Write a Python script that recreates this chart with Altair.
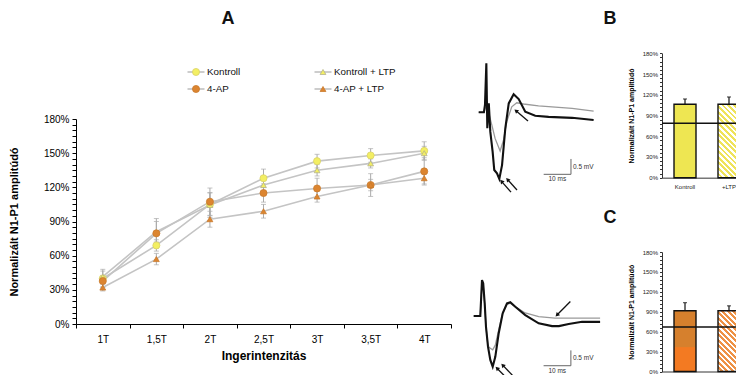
import math
import altair as alt
import numpy as np
import pandas as pd

FONT = "Liberation Sans"

# ---------------- Panel A: intensity series ----------------
intensities = ["1T", "1,5T", "2T", "2,5T", "3T", "3,5T", "4T"]
series_names = ["Kontroll", "Kontroll + LTP", "4-AP", "4-AP + LTP"]
kontroll = [40, 69, 105, 128, 143, 148, 152]
kontroll_err = [8, 5, 10, 8, 6, 6, 8]
kontroll_ltp = [41.5, 81, 104.5, 122, 135, 141, 150]
kontroll_ltp_err = [5, 9, 11, 6, 5, 4, 6]
ap = [37.7, 79.6, 107.4, 115, 119, 122, 134]
ap_err = [5, 13, 12, 8, 9, 10, 12]
ap_ltp = [32, 57, 92, 99, 112, 122, 128]
ap_ltp_err = [3, 5, 7, 6, 5, 5, 5]
series_values = [kontroll, kontroll_ltp, ap, ap_ltp]
series_errors = [kontroll_err, kontroll_ltp_err, ap_err, ap_ltp_err]
series_fill = ["#F3EF63", "#F3EF63", "#DC8530", "#DC8530"]
series_stroke = ["#D9D26A", "#B5B28C", "#C97A2C", "#C97A2C"]
series_shape = ["circle", "triangle-up", "circle", "triangle-up"]
series_size = [50, 34, 50, 34]
legend_col = [0, 1, 0, 1]
legend_row = [0, 0, 1, 1]

# ---------------- Panels B and C: bars ----------------
bar_categories = ["Kontroll", "+LTP"]
b_values = [106.2, 106.2]
b_errors = [7.7, 10.6]
b_reference = 78.7
c_values = [91.5, 91.5]
c_errors = [12.2, 7.4]
c_reference = 67.0
c_lower_band = 36.7

# ---------------- Field-potential traces (ms, mV) ----------------
top_black_t = [0, 1.9, 2.3, 2.8, 3.15, 3.7, 4.25, 5.1, 5.7, 6.7, 7.55, 8.55, 9.75, 11.0, 12.8, 14.65, 17.05, 20.7, 25.6, 34.2, 42.1]
top_black_v = [0, 0, 0.24, 1.60, -0.52, 0.29, -0.63, -1.28, -1.88, -1.99, -2.17, -1.72, -0.52, 0.29, 0.59, 0.43, 0.02, -0.11, -0.15, -0.18, -0.25]
top_grey_t = [0, 1.9, 2.5, 3.2, 3.9, 4.8, 6.0, 7.85, 9.1, 10.3, 12.1, 13.95, 16.4, 21.9, 34.2, 42.1]
top_grey_v = [0, 0, 0.15, 0.30, -0.10, -0.41, -0.85, -1.26, -0.90, -0.30, 0.18, 0.31, 0.27, 0.21, 0.13, 0.04]
bot_black_t = [0, 2.42, 3.04, 3.48, 4.03, 4.5, 5.24, 6.08, 6.96, 7.91, 9.16, 10.62, 12.2, 13.4, 15.24, 18.9, 23.8, 28.7, 31.2, 34.8, 39.7, 46.3]
bot_black_v = [0, 0, 1.17, 1.07, 0.41, -0.35, -1.0, -1.43, -1.65, -1.33, -0.56, 0.09, 0.41, 0.45, 0.30, 0.03, -0.24, -0.33, -0.33, -0.26, -0.19, -0.19]
bot_grey_t = [0, 2.42, 3.04, 3.48, 4.03, 4.5, 5.24, 6.08, 6.96, 7.91, 9.16, 10.62, 12.2, 13.4, 15.24, 18.9, 23.8, 29.8, 36.0, 46.3]
bot_grey_v = [0, 0, 1.10, 1.00, 0.38, -0.35, -0.98, -1.05, -1.10, -0.95, -0.45, 0.10, 0.38, 0.42, 0.30, 0.10, -0.02, -0.07, -0.07, -0.07]
# arrows: tail (t0, v0) -> head (t1, v1)
top_arrow_t0 = [18.06, 11.83, 14.03]
top_arrow_v0 = [-0.28, -2.60, -2.53]
top_arrow_t1 = [13.66, 8.35, 10.55]
top_arrow_v1 = [0.05, -2.25, -2.19]
bot_arrow_t0 = [35.4, 13.4, 15.24]
bot_arrow_v0 = [0.47, -2.14, -2.03]
bot_arrow_t1 = [30.5, 8.53, 10.62]
bot_arrow_v1 = [0.03, -1.70, -1.60]
# scale bars: 10 ms and 0.5 mV
top_bar_t = [23.8, 33.8]
top_bar_v = [-2.02, -1.52]
bot_bar_t = [25.6, 35.6]
bot_bar_v = [-1.62, -1.12]
scale_labels = ["0.5 mV", "10 ms"]

# ---------------- layout (canvas = page - 8px margin) ----------------
W, H = 728, 367
M = 8


def px(v):
    return v - M


layers = []

# ===== Panel A =====
rows = []
for s, name in enumerate(series_names):
    for i, cat in enumerate(intensities):
        v = series_values[s][i]
        e = series_errors[s][i]
        rows.append(dict(series=name, cat=cat, idx=i, val=v, lo=v - e, hi=v + e,
                         fill=series_fill[s], stroke=series_stroke[s],
                         shape=series_shape[s], size=series_size[s]))
df_a = pd.DataFrame(rows)
df_caps = pd.concat([df_a.assign(cap=df_a["lo"]), df_a.assign(cap=df_a["hi"])])


def a_x(axis=None):
    return alt.X("cat:N", title="Ingerintenzitás",
                 scale=alt.Scale(type="band", domain=intensities, range=[px(76), px(451)],
                                 paddingInner=0, paddingOuter=0),
                 axis=axis)


def a_y(field, axis=None):
    return alt.Y(field, title="Normalizált N1-P1 amplitúdó",
                 scale=alt.Scale(domain=[0, 180], range=[px(324), px(119)], nice=False, zero=False),
                 axis=axis)


a_xaxis = alt.Axis(orient="bottom", offset=px(324) - H, tickBand="extent", labelAngle=0,
                   tickSize=4, tickColor="#000", domainColor="#000", labelColor="#000",
                   labelFontSize=10, labelPadding=6, titleFontSize=12, titlePadding=6,
                   titleColor="#000", grid=False)
a_yaxis = alt.Axis(orient="left", offset=-px(76), values=list(range(0, 181, 5)),
                   labelExpr="datum.value % 30 === 0 ? datum.value + '%' : ''",
                   labelOverlap=False, labelFlush=False, tickSize=4, tickColor="#000",
                   domainColor="#000", labelColor="#000", labelFontSize=10, labelPadding=3,
                   titleFontSize=11, titlePadding=24, titleColor="#000", grid=False)

layers.append(alt.Chart(df_a).mark_rule(color="#ABABAB", strokeWidth=1).encode(
    x=a_x(), y=a_y("lo:Q"), y2="hi:Q"))
layers.append(alt.Chart(df_caps).mark_tick(color="#ABABAB", thickness=1, size=5).encode(
    x=a_x(), y=a_y("cap:Q")))
layers.append(alt.Chart(df_a).mark_line(color="#C4C4C4", strokeWidth=1.6).encode(
    x=a_x(a_xaxis), y=a_y("val:Q", a_yaxis), detail="series:N", order="idx:Q"))
layers.append(alt.Chart(df_a).mark_point(filled=True, opacity=1, strokeWidth=0.8).encode(
    x=a_x(), y=a_y("val:Q"),
    fill=alt.Fill("fill:N", scale=None), stroke=alt.Stroke("stroke:N", scale=None),
    shape=alt.Shape("shape:N", scale=None), size=alt.Size("size:Q", scale=None)))

# legend for A
df_leg = pd.DataFrame(dict(name=series_names, col=legend_col, row=legend_row,
                           fill=series_fill, stroke=series_stroke, shape=series_shape,
                           size=series_size))
leg_x = alt.X("col:O", scale=alt.Scale(type="point", domain=[0, 1], range=[px(196), px(323)], padding=0), axis=None)
leg_y = alt.Y("row:O", scale=alt.Scale(type="point", domain=[0, 1], range=[px(72), px(89)], padding=0), axis=None)
layers.append(alt.Chart(df_leg).mark_point(shape="stroke", size=290, strokeWidth=1.5,
                                           color="#BDBDBD", opacity=1).encode(x=leg_x, y=leg_y))
layers.append(alt.Chart(df_leg).mark_point(filled=True, opacity=1, strokeWidth=0.8).encode(
    x=leg_x, y=leg_y, fill=alt.Fill("fill:N", scale=None), stroke=alt.Stroke("stroke:N", scale=None),
    shape=alt.Shape("shape:N", scale=None), size=alt.Size("size:Q", scale=None)))
layers.append(alt.Chart(df_leg).mark_text(align="left", baseline="middle", dx=11, font=FONT,
                                          fontSize=9.8, color="#111").encode(
    x=leg_x, y=leg_y, text="name:N"))

# ===== Traces =====
T_DOM = [0, 50]
V_DOM = [-2.5, 1.8]
KX = 2.73   # px per ms
KY = 30.7   # px per mV


def trace_layers(black_t, black_v, grey_t, grey_v, a_t0, a_v0, a_t1, a_v1,
                 bar_t, bar_v, x0_page, y0_page):
    xs = alt.Scale(domain=T_DOM, range=[px(x0_page), px(x0_page) + KX * (T_DOM[1] - T_DOM[0])], nice=False, zero=False)
    ys = alt.Scale(domain=V_DOM, range=[px(y0_page) - KY * V_DOM[0], px(y0_page) - KY * V_DOM[1]], nice=False, zero=False)
    out = []
    df_tr = pd.concat([
        pd.DataFrame(dict(trace="grey", i=range(len(grey_t)), t=grey_t, v=grey_v)),
        pd.DataFrame(dict(trace="black", i=range(len(black_t)), t=black_t, v=black_v)),
    ])
    out.append(alt.Chart(df_tr).transform_filter(alt.datum.trace == "grey").mark_line(
        color="#9A9A9A", strokeWidth=1.3).encode(
        x=alt.X("t:Q", scale=xs, axis=None), y=alt.Y("v:Q", scale=ys, axis=None), order="i:Q"))
    out.append(alt.Chart(df_tr).transform_filter(alt.datum.trace == "black").mark_line(
        color="#111111", strokeWidth=2.1).encode(
        x=alt.X("t:Q", scale=xs, axis=None), y=alt.Y("v:Q", scale=ys, axis=None), order="i:Q"))
    # arrow shafts + scale bars as segments
    seg = pd.DataFrame(dict(t0=a_t0, v0=a_v0, t1=a_t1, v1=a_v1, kind="arrow"))
    bars = pd.DataFrame(dict(t0=[bar_t[0], bar_t[1]], v0=[bar_v[0], bar_v[0]],
                             t1=[bar_t[1], bar_t[1]], v1=[bar_v[0], bar_v[1]], kind="bar"))
    segs = pd.concat([seg, bars])
    out.append(alt.Chart(segs).mark_rule().encode(
        x=alt.X("t0:Q", scale=xs, axis=None), y=alt.Y("v0:Q", scale=ys, axis=None),
        x2="t1:Q", y2="v1:Q",
        color=alt.Color("kind:N", scale=alt.Scale(domain=["arrow", "bar"], range=["#111111", "#666666"]), legend=None),
        strokeWidth=alt.StrokeWidth("kind:N", scale=alt.Scale(domain=["arrow", "bar"], range=[1.3, 1.0]), legend=None)))
    heads = seg.copy()
    heads["angle"] = [
        (math.degrees(math.atan2((t1 - t0) * KX, (v1 - v0) * KY)) + 360) % 360
        for t0, v0, t1, v1 in zip(a_t0, a_v0, a_t1, a_v1)
    ]
    out.append(alt.Chart(heads).mark_point(shape="triangle-up", filled=True, size=22,
                                           color="#111111", opacity=1).encode(
        x=alt.X("t1:Q", scale=xs, axis=None), y=alt.Y("v1:Q", scale=ys, axis=None),
        angle=alt.Angle("angle:Q", scale=None)))
    lab = pd.DataFrame(dict(text=[scale_labels[0]], t=[bar_t[1]], v=[(bar_v[0] + bar_v[1]) / 2]))
    out.append(alt.Chart(lab).mark_text(align="left", baseline="middle", dx=2, font=FONT,
                                        fontSize=6.5, color="#333").encode(
        x=alt.X("t:Q", scale=xs, axis=None), y=alt.Y("v:Q", scale=ys, axis=None), text="text:N"))
    lab2 = pd.DataFrame(dict(text=[scale_labels[1]], t=[(bar_t[0] + bar_t[1]) / 2], v=[bar_v[0]]))
    out.append(alt.Chart(lab2).mark_text(align="center", baseline="top", dy=2, font=FONT,
                                         fontSize=6.5, color="#333").encode(
        x=alt.X("t:Q", scale=xs, axis=None), y=alt.Y("v:Q", scale=ys, axis=None), text="text:N"))
    return out


layers += trace_layers(top_black_t, top_black_v, top_grey_t, top_grey_v,
                       top_arrow_t0, top_arrow_v0, top_arrow_t1, top_arrow_v1,
                       top_bar_t, top_bar_v, 478.7, 112.3)
layers += trace_layers(bot_black_t, bot_black_v, bot_grey_t, bot_grey_v,
                       bot_arrow_t0, bot_arrow_v0, bot_arrow_t1, bot_arrow_v1,
                       bot_bar_t, bot_bar_v, 473.7, 316.0)


# ===== Bar panels =====
def hatch(color, w, h, period=4.0):
    # diagonal "\" stripes built from a hard-stop linear gradient
    k = (w + h) / (h * (1 + (w / h) ** 2))
    x2 = 1 - (w / h) * k
    span = (w + h) / math.sqrt(2)
    n = max(2, int(round(span / period)))
    stops = []
    for i in range(n):
        a, b, c = i / n, (i + 0.5) / n, (i + 1) / n
        stops += [dict(offset=a, color=color), dict(offset=b, color=color),
                  dict(offset=b, color="#FFFFFF"), dict(offset=c, color="#FFFFFF")]
    return dict(gradient="linear", x1=1, y1=0, x2=x2, y2=k, stops=stops)


def bar_panel(values, errors, reference, y_top_page, y_bottom_page, fill1, hatch_color,
              show_labels, lower=None, fill_lower=None):
    df = pd.DataFrame(dict(cat=bar_categories, val=values, hi=[v + e for v, e in zip(values, errors)], base=0))
    xs = alt.Scale(type="band", domain=bar_categories, range=[px(662), px(752)],
                   paddingInner=0.5, paddingOuter=0.273)
    ys = alt.Scale(domain=[0, 180], range=[px(y_bottom_page), px(y_top_page)], nice=False)
    yaxis = alt.Axis(orient="left", offset=-px(662), values=list(range(0, 181, 6)),
                     labelExpr="datum.value % 30 === 0 ? datum.value + '%' : ''",
                     labelOverlap=False, labelFlush=False, tickSize=2.5, tickColor="#333",
                     domainColor="#333", labelColor="#222", labelFontSize=6, labelPadding=2,
                     titleFontSize=7, titlePadding=8, titleColor="#000", grid=False)
    xaxis = alt.Axis(orient="bottom", offset=px(y_bottom_page) - H, ticks=False, labels=show_labels,
                     domainColor="#777", domainWidth=1.6, labelColor="#222", labelFontSize=6,
                     labelPadding=6, labelAngle=0, title=None, grid=False)
    out = []
    out.append(alt.Chart(df).mark_rule(color="#111", strokeWidth=1.2).encode(
        x=alt.X("cat:N", scale=xs, axis=None), y=alt.Y("val:Q", scale=ys, axis=None), y2="hi:Q"))
    out.append(alt.Chart(df).mark_tick(color="#111", thickness=1.2, size=4).encode(
        x=alt.X("cat:N", scale=xs, axis=None), y=alt.Y("hi:Q", scale=ys, axis=None)))
    bar_h = values[1] / 180 * (y_bottom_page - y_top_page)
    out.append(alt.Chart(df).transform_filter(alt.datum.cat == bar_categories[0]).mark_bar(
        fill=fill1, strokeWidth=0).encode(
        x=alt.X("cat:N", scale=xs, axis=xaxis, title=None),
        y=alt.Y("val:Q", scale=ys, axis=yaxis, title="Normalizált N1-P1 amplitúdó"), y2="base:Q"))
    if lower is not None:
        dfl = df.assign(lower=lower)
        out.append(alt.Chart(dfl).transform_filter(alt.datum.cat == bar_categories[0]).mark_bar(
            fill=fill_lower, strokeWidth=0).encode(
            x=alt.X("cat:N", scale=xs, axis=None), y=alt.Y("lower:Q", scale=ys, axis=None), y2="base:Q"))
    out.append(alt.Chart(df).transform_filter(alt.datum.cat == bar_categories[1]).mark_bar(
        fill=hatch(hatch_color, 22, bar_h), strokeWidth=0).encode(
        x=alt.X("cat:N", scale=xs, axis=None), y=alt.Y("val:Q", scale=ys, axis=None), y2="base:Q"))
    out.append(alt.Chart(df).mark_bar(fillOpacity=0, stroke="#111", strokeWidth=1.4).encode(
        x=alt.X("cat:N", scale=xs, axis=None), y=alt.Y("val:Q", scale=ys, axis=None), y2="base:Q"))
    dref = pd.DataFrame(dict(ref=[reference], s0=[0], s1=[1]))
    out.append(alt.Chart(dref).mark_rule(color="#111", strokeWidth=1.4).encode(
        x=alt.X("s0:Q", scale=alt.Scale(domain=[0, 1], range=[px(662), px(744)]), axis=None),
        x2="s1:Q", y=alt.Y("ref:Q", scale=ys, axis=None)))
    return out


layers += bar_panel(b_values, b_errors, b_reference, 53.3, 177.7, "#EEE652", "#EFE35A", True)
layers += bar_panel(c_values, c_errors, c_reference, 252.0, 371.5, "#D6802D", "#EE9245", False,
                    lower=c_lower_band, fill_lower="#F37A22")

# ===== panel letters =====
df_one = pd.DataFrame(dict(k=[0]))
for letter, (lx, ly) in zip(["A", "B", "C"], [(228, 19), (610, 19), (610, 218)]):
    layers.append(alt.Chart(df_one).mark_text(text=letter, font=FONT, fontSize=18, fontWeight="bold",
                                              align="center", baseline="middle", color="#111").encode(
        x=alt.value(px(lx)), y=alt.value(px(ly))))

chart = alt.layer(*layers).resolve_scale(x="independent", y="independent").properties(
    width=W, height=H, padding=0, autosize=alt.AutoSizeParams(type="none"),
    background="#FFFFFF",
).configure_view(stroke=None).configure_axis(labelFont=FONT, titleFont=FONT, grid=False)

chart.save("out.html", embed_options={"renderer": "svg", "actions": False})
